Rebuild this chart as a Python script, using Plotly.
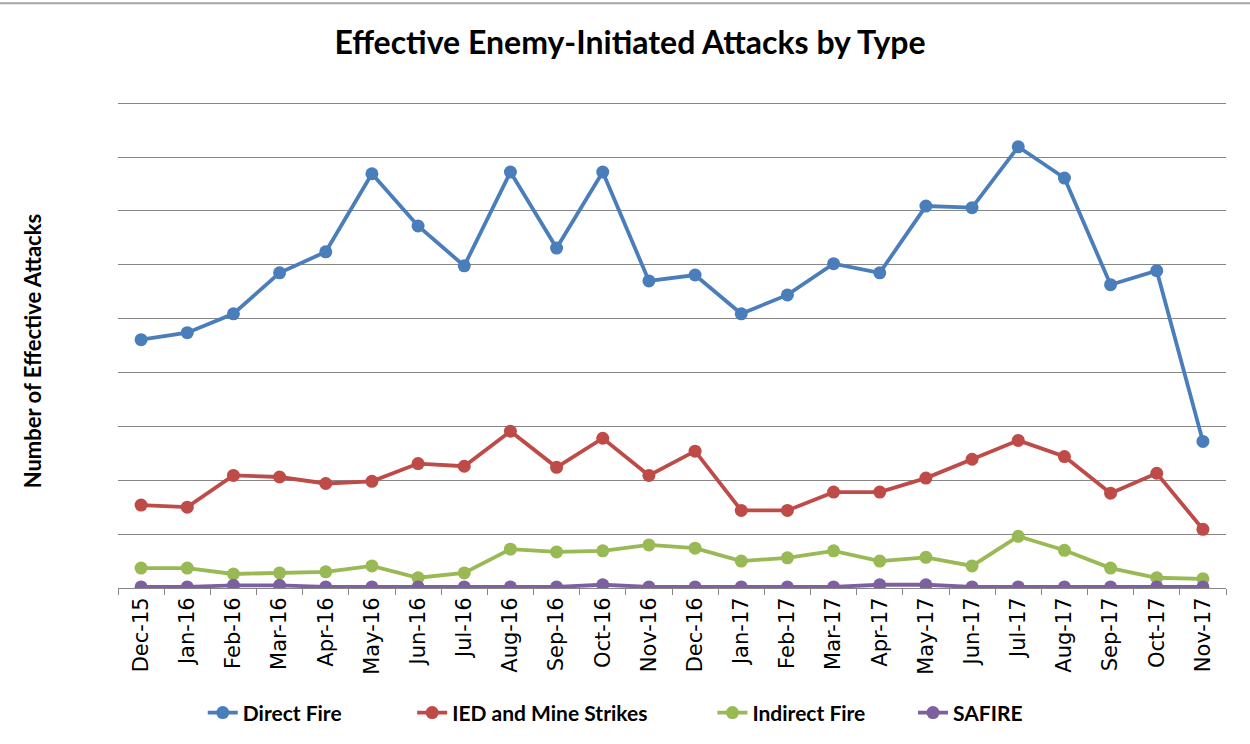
import plotly.graph_objects as go

months = ["Dec-15", "Jan-16", "Feb-16", "Mar-16", "Apr-16", "May-16", "Jun-16", "Jul-16",
          "Aug-16", "Sep-16", "Oct-16", "Nov-16", "Dec-16", "Jan-17", "Feb-17", "Mar-17",
          "Apr-17", "May-17", "Jun-17", "Jul-17", "Aug-17", "Sep-17", "Oct-17", "Nov-17"]

direct_fire = [46.1, 47.4, 50.9, 58.5, 62.4, 76.9, 67.2, 59.8, 77.2, 63.1, 77.2, 57.0,
               58.1, 50.9, 54.4, 60.2, 58.5, 70.9, 70.6, 81.9, 76.1, 56.3, 58.9, 27.2]
ied_mine = [15.4, 15.0, 20.9, 20.6, 19.4, 19.8, 23.1, 22.6, 29.1, 22.4, 27.8, 20.9,
            25.4, 14.4, 14.4, 17.8, 17.8, 20.4, 23.9, 27.4, 24.4, 17.6, 21.3, 10.9]
indirect_fire = [3.7, 3.7, 2.6, 2.8, 3.0, 4.1, 1.9, 2.8, 7.2, 6.7, 6.9, 8.0,
                 7.4, 5.0, 5.6, 6.9, 5.0, 5.7, 4.1, 9.6, 7.0, 3.7, 1.9, 1.7]
safire = [0.2, 0.2, 0.5, 0.5, 0.2, 0.2, 0.2, 0.2, 0.2, 0.2, 0.6, 0.2,
          0.2, 0.2, 0.2, 0.2, 0.6, 0.6, 0.2, 0.2, 0.2, 0.2, 0.2, 0.2]

series = [
    ("Direct Fire", direct_fire, "#4A7EBB", "legend", 0.0765),
    ("IED and Mine Strikes", ied_mine, "#BE4B48", "legend2", 0.2655),
    ("Indirect Fire", indirect_fire, "#98B954", "legend3", 0.5365),
    ("SAFIRE", safire, "#7D60A0", "legend4", 0.7175),
]

fig = go.Figure()
legend_layout = {}
for name, vals, color, leg, lx in series:
    fig.add_trace(go.Scatter(
        x=months, y=vals, name=name, mode="lines+markers", legend=leg,
        line=dict(color=color, width=3.8),
        marker=dict(color=color, size=13, symbol="circle"),
    ))
    legend_layout[leg] = dict(
        orientation="h", x=lx, xanchor="left", y=-0.2566, yanchor="middle",
        font=dict(family="Lato", size=21, color="#000000", weight="bold"),
        bgcolor="rgba(0,0,0,0)",
    )

fig.update_layout(
    width=1250, height=744,
    paper_bgcolor="white", plot_bgcolor="white",
    margin=dict(l=118, r=24, t=100.8, b=156, autoexpand=False),
    title=dict(text="Effective Enemy-Initiated Attacks by Type",
               x=0.504, xanchor="center", y=0.943, yanchor="middle",
               font=dict(family="Lato", size=32, color="#000000", weight="bold")),
    showlegend=True,
    font=dict(family="DejaVu Sans"),
    **legend_layout,
)

fig.update_xaxes(
    type="category", range=[-0.5, 23.5], automargin=False,
    tickangle=-90, tickfont=dict(family="DejaVu Sans", size=21, color="#000000"),
    showgrid=False, showline=True, linecolor="#868686", linewidth=1,
    ticks="outside", tickson="boundaries", ticklen=6, tickcolor="#868686",
)
fig.update_yaxes(
    range=[0, 90.4], dtick=10, showticklabels=False, automargin=False,
    showgrid=True, gridcolor="#868686", gridwidth=1, zeroline=False,
)

fig.add_annotation(
    text="Number of Effective Attacks", xref="paper", yref="paper",
    x=-0.0776, y=0.486, xanchor="center", yanchor="middle", textangle=-90,
    showarrow=False, font=dict(family="Lato", size=22, color="#000000", weight="bold"),
)

fig.add_shape(type="line", xref="paper", yref="paper", x0=-0.107, x1=1.022, y0=1.2007,
              y1=1.2007, line=dict(color="#A6A6A6", width=2))

fig.write_html("out.html", config={"displayModeBar": False},
               post_script="document.body.style.margin='0';")
